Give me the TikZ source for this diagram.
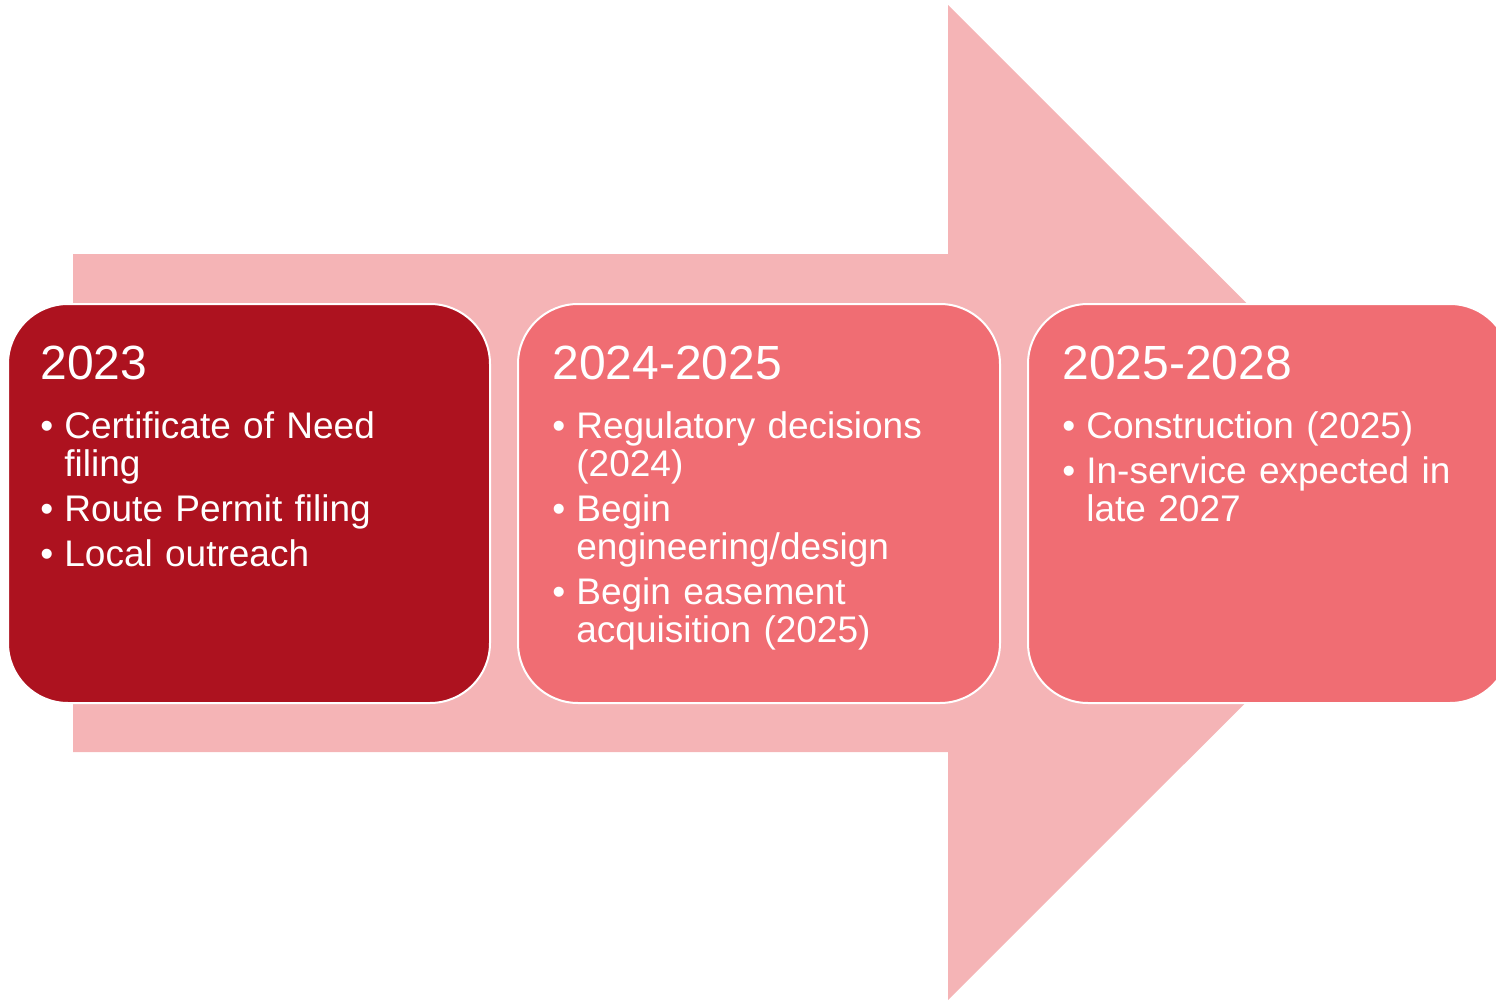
\documentclass[tikz,border=0pt]{standalone}
\usepackage{fontspec}
\setmainfont{Liberation Sans}
\usetikzlibrary{calc}
\definecolor{darkred}{HTML}{AD121F}
\definecolor{salmon}{HTML}{F06D73}
\definecolor{pale}{HTML}{F5B4B6}
\newcommand{\yeartitle}[1]{{\fontsize{24}{24}\selectfont #1\par}\vspace{7pt}}
\newcommand{\bitem}[1]{\par\vspace{3.5pt}\hangindent=12pt\hangafter=1\noindent\makebox[12pt][l]{\textbullet}#1\par}
\begin{document}
\begin{tikzpicture}[x=0.5pt,y=-0.5pt]
        \useasboundingbox (0,0) rectangle (1496,1001);
        \clip (0,0) rectangle (1496,1001);
        % big arrow behind the stages
        \fill[pale] (73,254) -- (948,254) -- (948,5) -- (1446,502.5)
            -- (948,1000) -- (948,752) -- (73,752) -- cycle;
        \begin{scope}[every node/.style={draw=white,line width=1pt,rounded corners=30pt,
                minimum width=241pt,minimum height=199.5pt,inner sep=0pt}]
            \node (y23) [fill=darkred] at (249,503.5) {};
            \node (y24) [fill=salmon] at (759,503.5) {};
            \node (y25) [fill=salmon] at (1269,503.5) {};
        \end{scope}
        \begin{scope}[every node/.style={anchor=base west,text=white,inner sep=0pt,
                text width=215pt,align=left,font=\fontsize{18.5}{19}\selectfont}]
            \node (t23) at ($(y23.north west)+(33,76)$) {\yeartitle{2023}%
                \bitem{Certificate of Need\newline filing}%
                \bitem{Route Permit filing}%
                \bitem{Local outreach}};
            \node (t24) at ($(y24.north west)+(35,76)$) {\yeartitle{2024-2025}%
                \bitem{Regulatory decisions\newline (2024)}%
                \bitem{Begin\newline engineering/design}%
                \bitem{Begin easement\newline acquisition (2025)}};
            \node (t25) at ($(y25.north west)+(35,76)$) {\yeartitle{2025-2028}%
                \bitem{Construction (2025)}%
                \bitem{In-service expected in\newline late 2027}};
        \end{scope}
\end{tikzpicture}
\end{document}
